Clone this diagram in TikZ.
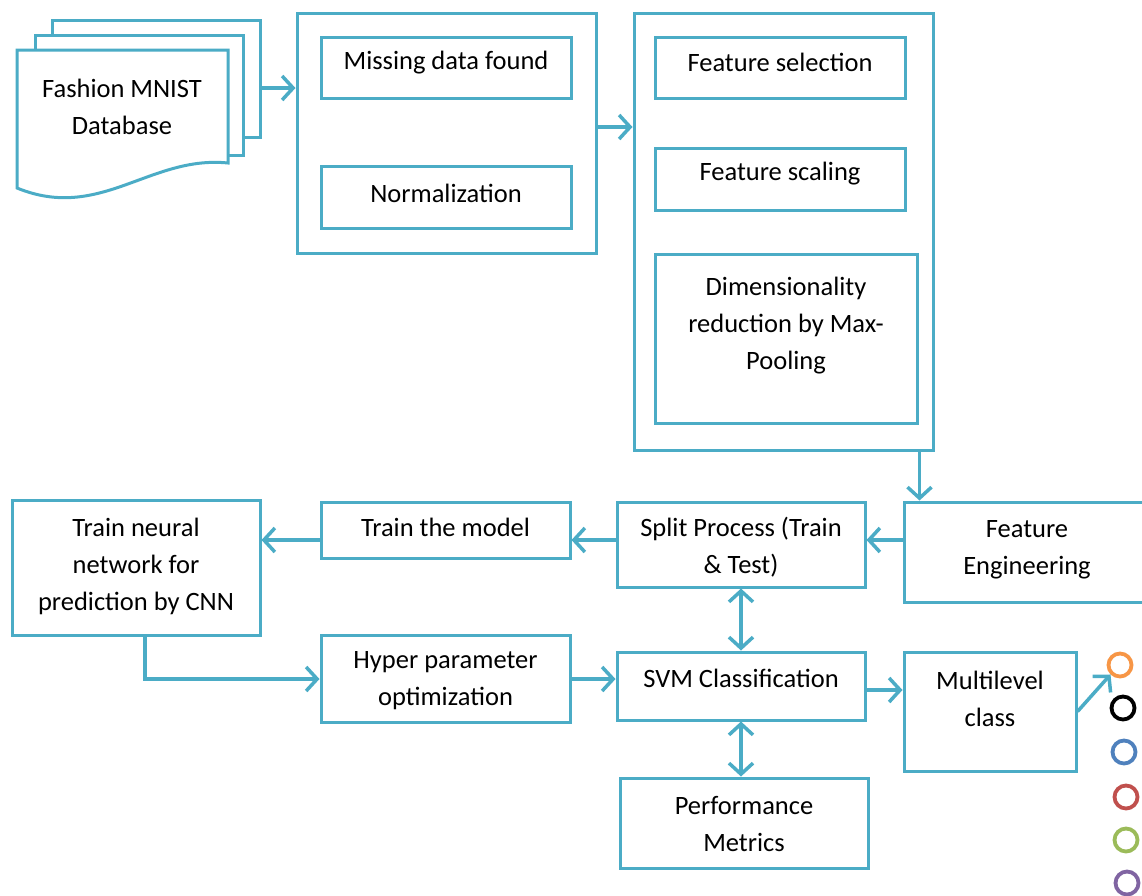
\documentclass[tikz,border=0pt]{standalone}
\usepackage{fontspec}
\setmainfont{Carlito}
\usetikzlibrary{arrows.meta}
\definecolor{cl}{HTML}{4BACC6}
\definecolor{corange}{HTML}{F79646}
\definecolor{cblue}{HTML}{4F81BD}
\definecolor{cred}{HTML}{C0504D}
\definecolor{cgreen}{HTML}{9BBB59}
\definecolor{cpurple}{HTML}{8064A2}
\tikzset{
  box/.style={draw=cl, line width=3pt, fill=white, inner sep=0pt, minimum width=#1},
  txt/.style={align=center, font=\fontsize{26.5}{37}\selectfont, text=black, inner sep=0pt},
  arr/.style={draw=cl, line width=3.5pt, -{Straight Barb[length=11pt,width=24pt]}},
  darr/.style={draw=cl, line width=3.5pt, {Straight Barb[length=11pt,width=24pt]}-{Straight Barb[length=11pt,width=24pt]}},
  ring/.style={circle, draw=#1, line width=3.8pt, minimum size=23pt, inner sep=0pt}
}
\begin{document}
\begin{tikzpicture}[x=1pt,y=-1pt]
\useasboundingbox (0,0) rectangle (1142,895);
% database document stack
\draw[cl, line width=3pt, fill=white] (52,137) -- (52,20) -- (260,20) -- (260,137) -- cycle;
\draw[cl, line width=3pt, fill=white] (35,155) -- (35,35) -- (243,35) -- (243,155) -- cycle;
\draw[cl, line width=3pt, fill=white] (17,188) -- (17,50) -- (228,50) -- (228,163) .. controls (150,155) and (100,222) .. (17,188) -- cycle;
\node[txt] (db) at (122,107) {Fashion MNIST\\Database};
\coordinate (dbout) at (260,88);
% preprocessing box
\node[box=299pt, minimum height=240pt] (pre) at (446.5,133) {};
\node[box=250pt, minimum height=61pt] (miss) at (446,67.5) {};
\node[txt] (misst) at ([yshift=5pt]miss.center) {Missing data found};
\node[box=250pt, minimum height=62pt] (norm) at (446,197) {};
\node[txt] (normt) at ([yshift=4pt]norm.center) {Normalization};
% feature box
\node[box=299pt, minimum height=437pt] (feat) at (783.5,231.5) {};
\node[box=250pt, minimum height=61pt] (fsel) at (780,67.5) {};
\node[txt] (fselt) at ([yshift=5pt]fsel.center) {Feature selection};
\node[box=250pt, minimum height=62pt] (fsc) at (780,179) {};
\node[txt] (fsct) at ([yshift=5pt]fsc.center) {Feature scaling};
\node[box=262pt, minimum height=169pt] (dim) at (786,338.5) {};
\node[txt] (dimt) at ([yshift=13pt]dim.center) {Dimensionality\\reduction by Max-\\Pooling};
% lower row
\node[box=246pt, minimum height=100pt] (fe) at (1027,552) {};
\node[txt] (fet) at ([yshift=2pt]fe.center) {Feature\\Engineering};
\node[box=248pt, minimum height=85pt] (split) at (741,544.5) {};
\node[txt] (splitt) at ([yshift=-3pt]split.center) {Split Process (Train\\\& Test)};
\node[box=249pt, minimum height=56pt] (train) at (445.5,530) {};
\node[txt] (traint) at ([yshift=3pt]train.center) {Train the model};
\node[box=248pt, minimum height=135pt] (tnn) at (136,567.5) {};
\node[txt] (tnnt) at ([yshift=1pt]tnn.center) {Train neural\\network for\\prediction by CNN};
\node[box=249pt, minimum height=87pt] (hyp) at (445.5,678.5) {};
\node[txt] (hypt) at ([yshift=-2pt]hyp.center) {Hyper parameter\\optimization};
\node[box=248pt, minimum height=68pt] (svm) at (741,686) {};
\node[txt] (svmt) at ([yshift=8pt]svm.center) {SVM Classification};
\node[box=248pt, minimum height=90pt] (perf) at (744,823) {};
\node[txt] (perft) at ([yshift=-1pt]perf.center) {Performance\\Metrics};
\node[box=172pt, minimum height=119pt] (multi) at (990,711.5) {};
\node[txt] (multit) at ([yshift=13pt]multi.center) {Multilevel\\class};
% rings
\node[ring=corange] (c1) at (1120,665) {};
\node[ring=black] (c2) at (1123,708) {};
\node[ring=cblue] (c3) at (1124,752) {};
\node[ring=cred] (c4) at (1126,797) {};
\node[ring=cgreen] (c5) at (1126,840) {};
\node[ring=cpurple] (c6) at (1127,883) {};
% connectors
\coordinate (r1) at (0,540);
\coordinate (r2) at (0,679);
\draw[arr] (dbout) -- (pre.west |- dbout);
\draw[arr] ([yshift=6pt]pre.east) -- ([yshift=6pt]pre.east -| feat.west);
\draw[arr] ([xshift=-15pt]feat.south east) -- ([xshift=-15pt]feat.south east |- fe.north);
\draw[arr] (fe.west |- r1) -- (split.east |- r1);
\draw[arr] (split.west |- r1) -- (train.east |- r1);
\draw[arr] (train.west |- r1) -- (tnn.east |- r1);
\draw[arr] ([xshift=9pt]tnn.south) |- (hyp.west |- r2);
\draw[arr] (hyp.east |- r2) -- (svm.west |- r2);
\draw[darr] (split.south) -- (svm.north);
\draw[darr] (svm.south) -- (svm.south |- perf.north);
\draw[arr] ([yshift=-4pt]svm.east) -- ([yshift=-4pt]svm.east -| multi.west);
\draw[arr] (multi.east) -- (c1.225);
\end{tikzpicture}
\end{document}
